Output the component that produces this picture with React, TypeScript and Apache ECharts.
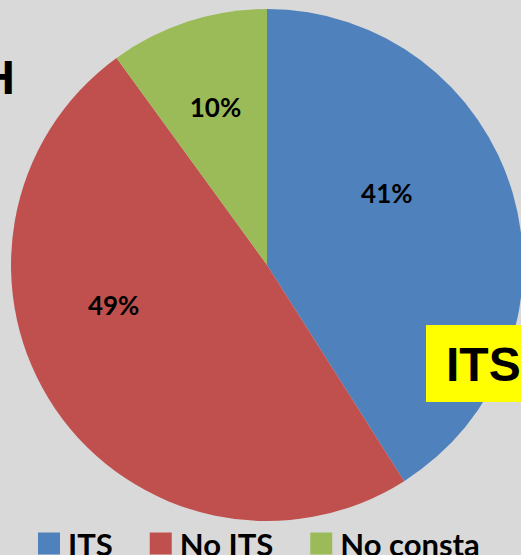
import React, { useEffect, useRef } from "react";
import * as echarts from "echarts";

const categories = ["ITS", "No ITS", "No consta"];
const values = [41, 49, 10];
const colors = ["#4F81BD", "#C0504D", "#9BBB59"];
const labelOffsets: [number, number][] = [[-6, -35], [-45, -34], [-11, -33]];

export default function App() {
  const ref = useRef<HTMLDivElement>(null);
  useEffect(() => {
    document.body.style.margin = "0";
    const chart = echarts.init(ref.current!, undefined, { renderer: "svg" });
    chart.setOption({
      animation: false,
      backgroundColor: "#D9D9D9",
      color: colors,
      legend: {
        data: categories,
        left: 38,
        top: 528,
        padding: 0,
        itemGap: 37,
        itemWidth: 22,
        itemHeight: 22,
        icon: "rect",
        textStyle: {
          fontFamily: "Lato",
          fontWeight: "bold",
          fontSize: 31,
          lineHeight: 30,
          color: "#000",
          padding: [0, 0, 0, 3],
        },
      },
      graphic: [
        {
          type: "text",
          x: 15,
          y: 77,
          style: {
            text: "H",
            fontFamily: "Liberation Sans",
            fontWeight: "bold",
            fontSize: 48,
            fill: "#000",
            align: "right",
            verticalAlign: "middle",
          },
        },
        {
          type: "rect",
          shape: { x: 426, y: 325, width: 100, height: 77 },
          style: { fill: "#FFFF00" },
          z: 10,
        },
        {
          type: "text",
          x: 446,
          y: 364,
          z: 11,
          style: {
            text: "ITS",
            fontFamily: "Liberation Sans",
            fontWeight: "bold",
            fontSize: 48,
            fill: "#000",
            align: "left",
            verticalAlign: "middle",
          },
        },
      ],
      series: [
        {
          type: "pie",
          center: [267, 265],
          radius: 256,
          startAngle: 90,
          clockwise: true,
          avoidLabelOverlap: false,
          label: {
            show: true,
            position: "inside",
            formatter: "{d}%",
            fontFamily: "Lato",
            fontWeight: "bold",
            fontSize: 26,
            color: "#000",
          },
          labelLine: { show: false },
          emphasis: { disabled: true },
          data: categories.map((name, i) => ({
            name,
            value: values[i],
            label: { offset: labelOffsets[i] },
          })),
        },
      ],
    });
    return () => chart.dispose();
  }, []);
  return <div ref={ref} style={{ width: 521, height: 555 }} />;
}
